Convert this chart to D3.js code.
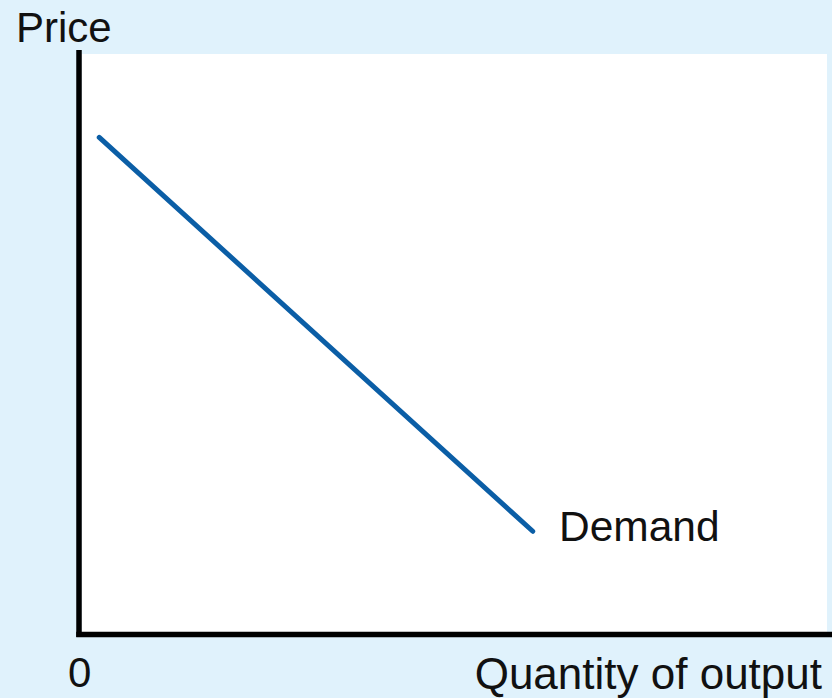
<!DOCTYPE html>
<html><head><meta charset="utf-8">
<script src="https://cdn.jsdelivr.net/npm/d3@7"></script>
<style>html,body{margin:0;padding:0;background:#e0f2fc;}svg{display:block;font-family:"Liberation Sans",Arial,sans-serif;}</style>
</head><body>
<svg id="c" width="832" height="698"></svg>
<script>
const demandQ = [0.27, 6.05];
const demandP = [8.57, 1.78];
const xLabel = "Quantity of output";
const yLabel = "Price";
const curveLabel = "Demand";
const originLabel = "0";

const svg = d3.select("#c");
const x = d3.scaleLinear().domain([0, 10]).range([79, 829]);
const y = d3.scaleLinear().domain([0, 10]).range([634.5, 54.5]);

svg.append("rect").attr("width", 832).attr("height", 698).attr("fill", "#e0f2fc");
svg.append("rect").attr("x", 82).attr("y", 54).attr("width", 745).attr("height", 578).attr("fill", "#ffffff");

// axes
svg.append("line").attr("x1", x(0)).attr("x2", x(0)).attr("y1", 50).attr("y2", y(0) + 2.5)
  .attr("stroke", "#000").attr("stroke-width", 5.5);
svg.append("line").attr("x1", x(0) - 2.75).attr("x2", 832).attr("y1", y(0)).attr("y2", y(0))
  .attr("stroke", "#000").attr("stroke-width", 5.5);

const pts = demandQ.map((q, i) => [x(q), y(demandP[i])]);
svg.append("path").attr("d", d3.line()(pts)).attr("fill", "none")
  .attr("stroke", "#0b5ea6").attr("stroke-width", 5).attr("stroke-linecap", "round");

svg.append("text").attr("x", 16).attr("y", 42).attr("font-size", 42).attr("fill", "#111").text(yLabel);
svg.append("text").attr("x", 68).attr("y", 687).attr("font-size", 42).attr("fill", "#111").text(originLabel);
svg.append("text").attr("x", 822).attr("y", 689).attr("text-anchor", "end").attr("font-size", 44).attr("fill", "#111").text(xLabel);
svg.append("text").attr("x", 559).attr("y", 541).attr("font-size", 42.5).attr("fill", "#111").text(curveLabel);
</script>
</body></html>
